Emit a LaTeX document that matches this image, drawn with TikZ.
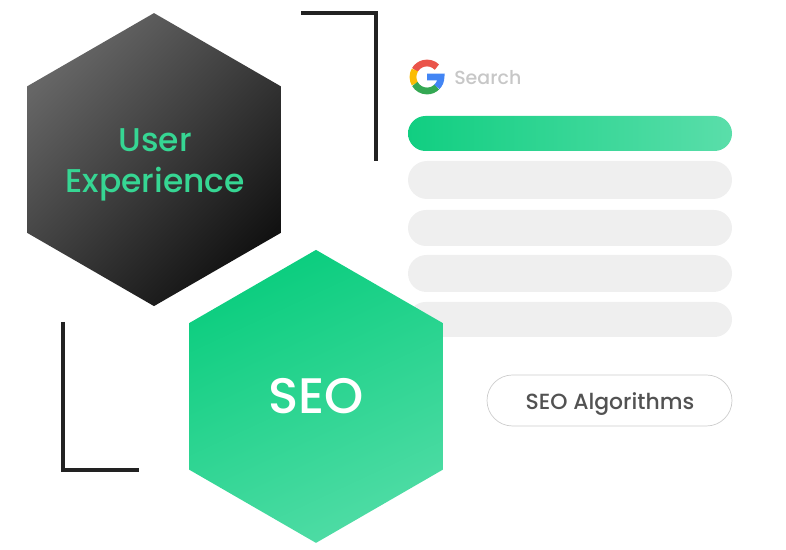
\documentclass[tikz,border=0pt]{standalone}
\usepackage{fontspec}
\setmainfont{Poppins Medium}
\usepackage{xcolor}
\usetikzlibrary{shapes.geometric, shapes.misc}

\definecolor{seogreen}{HTML}{36D693}
\definecolor{seolight}{HTML}{4FDCA5}
\definecolor{seostrong}{HTML}{0ACD7E}
\definecolor{barlight}{HTML}{5ADEAA}
\definecolor{bargray}{HTML}{EFEFEF}
\definecolor{frameblack}{HTML}{222222}

\tikzset{
  hexagon/.style={regular polygon, regular polygon sides=6, shape border rotate=30,
    minimum size=7.325cm, inner sep=0pt, outer sep=0pt, align=center},
  searchbar/.style={rounded rectangle, minimum width=8.1cm, inner sep=0pt, outer sep=0pt},
  cornerline/.style={line width=0.1cm, frameblack},
  googlearc/.style={line width=0.17cm}
}

\begin{document}
\begin{tikzpicture}
      \useasboundingbox (0,0) rectangle (19.65,13.75);

      \coordinate (topa) at (7.525,13.425);
      \coordinate (topb) at (9.4,13.425);
      \coordinate (topc) at (9.4,9.725);
      \coordinate (lowa) at (1.575,5.7);
      \coordinate (lowb) at (1.575,2);
      \coordinate (lowc) at (3.475,2);
      \draw[cornerline] (topa) -- (topb) -- (topc);
      \draw[cornerline] (lowa) -- (lowb) -- (lowc);

      % search results
      \node[searchbar, minimum height=0.875cm, left color=seostrong!85!seogreen, right color=barlight] (result1) at (14.25,10.4125) {};
      \node[searchbar, minimum height=0.95cm, fill=bargray] (result2) at (14.25,9.25) {};
      \node[searchbar, minimum height=0.9cm, fill=bargray] (result3) at (14.25,8.05) {};
      \node[searchbar, minimum height=0.925cm, fill=bargray] (result4) at (14.25,6.9125) {};
      \node[searchbar, minimum height=0.875cm, fill=bargray] (result5) at (14.25,5.7625) {};

      % google logo
      \coordinate (logo) at (10.675,11.825);
      \draw[googlearc, color={rgb,255:red,234;green,84;blue,74}] ([shift={(45:0.35)}]logo) arc (45:150:0.35);
      \draw[googlearc, color={rgb,255:red,251;green,188;blue,5}] ([shift={(150:0.35)}]logo) arc (150:210:0.35);
      \draw[googlearc, color={rgb,255:red,52;green,168;blue,83}] ([shift={(210:0.35)}]logo) arc (210:315:0.35);
      \draw[googlearc, color={rgb,255:red,66;green,133;blue,244}] ([shift={(315:0.35)}]logo) arc (315:360:0.35) -- (logo);
      \node[anchor=west, text=black!22, font=\fontsize{13.5}{16}\selectfont, inner sep=0pt] (search) at (11.35,11.8) {Search};

      \node[rounded rectangle, draw=black!20, line width=0.5pt, minimum width=6.125cm, minimum height=1.275cm,
        inner sep=0pt] (algo) at (15.2375,3.7375) {};
      \node[text=black!68, font=\fontsize{15.6}{19}\selectfont, inner sep=0pt] (algotext) at (15.25,3.66) {SEO Algorithms};

      \node[hexagon, top color=black!60, bottom color=black!93, shading angle=45] (ux) at (3.85,9.76) {};
      \node[text=seogreen, align=center, font=\fontsize{23.4}{29}\selectfont, inner sep=0pt] (uxtext) at (3.88,9.62) {User\\Experience};
      \node[hexagon, top color=seostrong, bottom color=seolight, shading angle=25] (seo) at (7.9,3.84) {};
      \node[text=white, font=\fontsize{35.5}{40}\selectfont, inner sep=0pt] (seotext) at (7.9,3.84) {SEO};
    \end{tikzpicture}
\end{document}
